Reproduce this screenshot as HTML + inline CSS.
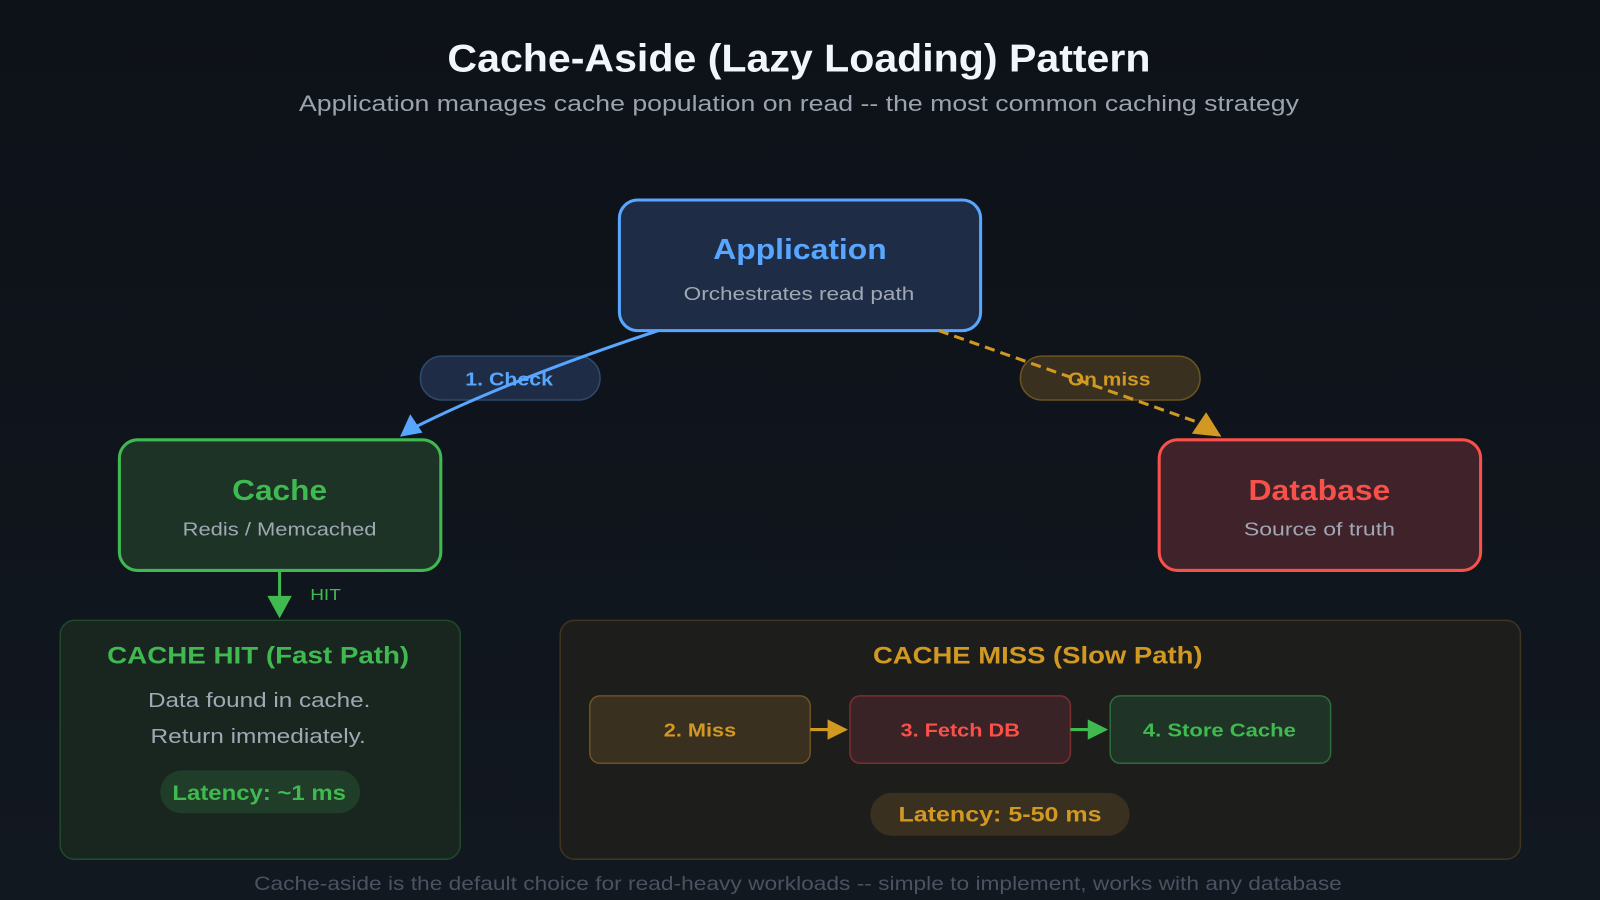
<!DOCTYPE html>
<html><head><meta charset="utf-8"><style>
html,body{margin:0;padding:0;width:1600px;height:900px;overflow:hidden;background:linear-gradient(180deg,#0d1118 0%,#121820 100%);}
svg{display:block}
text{font-family:"Liberation Sans","DejaVu Sans",sans-serif;}
</style></head><body>
<svg width="1600" height="900" viewBox="0 0 1568 882" preserveAspectRatio="none" xmlns="http://www.w3.org/2000/svg">
<text x="783" y="70" text-anchor="middle" font-size="38" font-weight="bold" fill="#f0f6fc" textLength="689" lengthAdjust="spacingAndGlyphs">Cache-Aside (Lazy Loading) Pattern</text>
<text x="783" y="109" text-anchor="middle" font-size="22" fill="#9aa3ae" textLength="980" lengthAdjust="spacingAndGlyphs">Application manages cache population on read -- the most common caching strategy</text>

<rect x="607" y="196" width="354" height="128" rx="18" fill="#1e2d45" stroke="#58a6ff" stroke-width="3"/>
<text x="784" y="254" text-anchor="middle" font-size="28" font-weight="bold" fill="#58a6ff" textLength="170" lengthAdjust="spacingAndGlyphs">Application</text>
<text x="783" y="294" text-anchor="middle" font-size="18" fill="#a0a8b4" textLength="226" lengthAdjust="spacingAndGlyphs">Orchestrates read path</text>

<rect x="117" y="431" width="315" height="128" rx="18" fill="#1c3326" stroke="#3fb950" stroke-width="3"/>
<text x="274" y="490" text-anchor="middle" font-size="28" font-weight="bold" fill="#3fb950" textLength="93" lengthAdjust="spacingAndGlyphs">Cache</text>
<text x="274" y="525" text-anchor="middle" font-size="18" fill="#a0a8b4" textLength="190" lengthAdjust="spacingAndGlyphs">Redis / Memcached</text>

<rect x="1136" y="431" width="315" height="128" rx="18" fill="#40232a" stroke="#f85149" stroke-width="3"/>
<text x="1293" y="490" text-anchor="middle" font-size="28" font-weight="bold" fill="#f85149" textLength="139" lengthAdjust="spacingAndGlyphs">Database</text>
<text x="1293" y="525" text-anchor="middle" font-size="18" fill="#a0a8b4" textLength="148" lengthAdjust="spacingAndGlyphs">Source of truth</text>

<rect x="412" y="349" width="176" height="43" rx="21" fill="#1e2d45" stroke="#2f4a6e" stroke-width="1.5"/>
<text x="499" y="378" text-anchor="middle" font-size="18" font-weight="bold" fill="#58a6ff" textLength="86" lengthAdjust="spacingAndGlyphs">1. Check</text>
<rect x="1000" y="349" width="176" height="43" rx="21" fill="#3a3020" stroke="#6b5420" stroke-width="1.5"/>
<text x="1087" y="378" text-anchor="middle" font-size="18" font-weight="bold" fill="#d29922" textLength="81" lengthAdjust="spacingAndGlyphs">On miss</text>

<path d="M645,324 Q500,372 408,418" fill="none" stroke="#58a6ff" stroke-width="3"/>
<path d="M392,428 L402,406 L414,424 z" fill="#58a6ff"/>
<path d="M920,324 L1180,416" fill="none" stroke="#d29922" stroke-width="3" stroke-dasharray="10,6"/>
<path d="M1197,428 L1168,425 L1182,404 z" fill="#d29922"/>

<line x1="274" y1="559" x2="274" y2="588" stroke="#3fb950" stroke-width="3"/>
<path d="M262,584 L286,584 L274,606 z" fill="#3fb950"/>
<text x="319" y="588" text-anchor="middle" font-size="15" fill="#3fb950" textLength="30" lengthAdjust="spacingAndGlyphs">HIT</text>

<rect x="59" y="608" width="392" height="234" rx="14" fill="#18261f" stroke="#1f4a2c" stroke-width="1.5"/>
<text x="253" y="650" text-anchor="middle" font-size="24" font-weight="bold" fill="#3fb950" textLength="296" lengthAdjust="spacingAndGlyphs">CACHE HIT (Fast Path)</text>
<text x="254" y="693" text-anchor="middle" font-size="20" fill="#a0a8b4" textLength="218" lengthAdjust="spacingAndGlyphs">Data found in cache.</text>
<text x="253" y="728" text-anchor="middle" font-size="20" fill="#a0a8b4" textLength="211" lengthAdjust="spacingAndGlyphs">Return immediately.</text>
<rect x="157" y="755" width="196" height="42" rx="21" fill="#1f3d28"/>
<text x="254" y="784" text-anchor="middle" font-size="21" font-weight="bold" fill="#3fb950" textLength="170" lengthAdjust="spacingAndGlyphs">Latency: ~1 ms</text>

<rect x="549" y="608" width="941" height="234" rx="14" fill="#1d1d1b" stroke="#3d3520" stroke-width="1.5"/>
<text x="1017" y="650" text-anchor="middle" font-size="24" font-weight="bold" fill="#d29922" textLength="323" lengthAdjust="spacingAndGlyphs">CACHE MISS (Slow Path)</text>
<rect x="578" y="682" width="216" height="66" rx="10" fill="#3a3020" stroke="#6b5420" stroke-width="1.5"/>
<text x="686" y="722" text-anchor="middle" font-size="18" font-weight="bold" fill="#d29922" textLength="71" lengthAdjust="spacingAndGlyphs">2. Miss</text>
<rect x="833" y="682" width="216" height="66" rx="10" fill="#3a2326" stroke="#7a3030" stroke-width="1.5"/>
<text x="941" y="722" text-anchor="middle" font-size="18" font-weight="bold" fill="#f85149" textLength="117" lengthAdjust="spacingAndGlyphs">3. Fetch DB</text>
<rect x="1088" y="682" width="216" height="66" rx="10" fill="#1f3326" stroke="#2e6b3a" stroke-width="1.5"/>
<text x="1195" y="722" text-anchor="middle" font-size="18" font-weight="bold" fill="#3fb950" textLength="150" lengthAdjust="spacingAndGlyphs">4. Store Cache</text>
<line x1="794" y1="715" x2="814" y2="715" stroke="#d29922" stroke-width="3"/>
<path d="M811,705 L831,715 L811,725 z" fill="#d29922"/>
<line x1="1049" y1="715" x2="1069" y2="715" stroke="#3fb950" stroke-width="3"/>
<path d="M1066,705 L1086,715 L1066,725 z" fill="#3fb950"/>
<rect x="853" y="777" width="254" height="42" rx="21" fill="#3a3020"/>
<text x="980" y="805" text-anchor="middle" font-size="21" font-weight="bold" fill="#d29922" textLength="199" lengthAdjust="spacingAndGlyphs">Latency: 5-50 ms</text>

<text x="782" y="872" text-anchor="middle" font-size="19" fill="#4b5260" textLength="1066" lengthAdjust="spacingAndGlyphs">Cache-aside is the default choice for read-heavy workloads -- simple to implement, works with any database</text>
</svg>
</body></html>
